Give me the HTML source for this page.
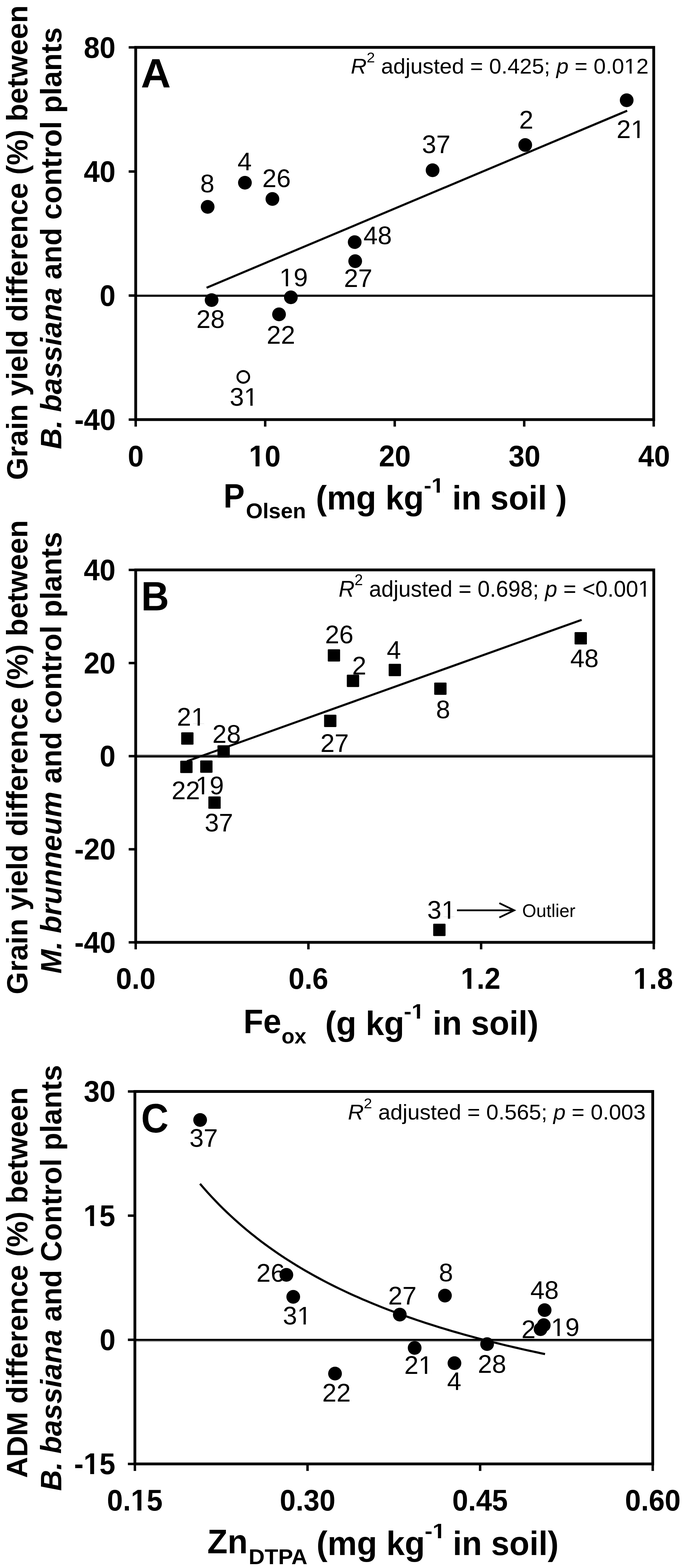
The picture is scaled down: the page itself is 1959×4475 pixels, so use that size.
<!DOCTYPE html>
<html><head><meta charset="utf-8"><title>Figure</title>
<style>html,body{margin:0;padding:0;background:#fff;overflow:hidden}svg{display:block}</style>
</head><body>
<svg width="1959" height="4475" viewBox="0 0 1959 4475" font-family='"Liberation Sans", Arial, sans-serif' fill="#000">
<rect width="1959" height="4475" fill="#fff"/>
<line x1="367.5" y1="135.2" x2="387.5" y2="135.2" stroke="#000" stroke-width="7"/>
<line x1="367.5" y1="489.5" x2="387.5" y2="489.5" stroke="#000" stroke-width="7"/>
<line x1="367.5" y1="843.5" x2="387.5" y2="843.5" stroke="#000" stroke-width="7"/>
<line x1="367.5" y1="1197.5" x2="387.5" y2="1197.5" stroke="#000" stroke-width="7"/>
<line x1="387.5" y1="1197.5" x2="387.5" y2="1217.5" stroke="#000" stroke-width="7"/>
<line x1="757.3" y1="1197.5" x2="757.3" y2="1217.5" stroke="#000" stroke-width="7"/>
<line x1="1127.2" y1="1197.5" x2="1127.2" y2="1217.5" stroke="#000" stroke-width="7"/>
<line x1="1497" y1="1197.5" x2="1497" y2="1217.5" stroke="#000" stroke-width="7"/>
<line x1="1866.8" y1="1197.5" x2="1866.8" y2="1217.5" stroke="#000" stroke-width="7"/>
<rect x="387.5" y="839.4" width="1479.3" height="2.5" fill="#a4a4a4"/>
<rect x="387.5" y="841.9" width="1479.3" height="5.0" fill="#000"/>
<line x1="590" y1="821.2" x2="1791" y2="316" stroke="#000" stroke-width="6"/>
<circle cx="593" cy="590.3" r="19.6"/>
<circle cx="699.4" cy="521.5" r="19.6"/>
<circle cx="777.9" cy="567.8" r="19.6"/>
<circle cx="1012.9" cy="691" r="19.6"/>
<circle cx="1014.3" cy="745.3" r="19.6"/>
<circle cx="604.3" cy="856.5" r="19.6"/>
<circle cx="830.6" cy="848.5" r="19.6"/>
<circle cx="796.8" cy="897.2" r="19.6"/>
<circle cx="1235.3" cy="485.8" r="19.6"/>
<circle cx="1499.9" cy="413.8" r="19.6"/>
<circle cx="1789.6" cy="286.1" r="19.6"/>
<circle cx="694.8" cy="1075.7" r="16.7" fill="#fff" stroke="#000" stroke-width="5.6"/>
<text x="571.8" y="549.4" font-size="73">8</text>
<text x="678.3" y="485.9" font-size="73">4</text>
<text x="749.1" y="534.2" font-size="73">26</text>
<text x="1038.0" y="697.3" font-size="73">48</text>
<text x="982.2" y="819.4" font-size="73">27</text>
<text x="797.8" y="817.1" font-size="73">19</text>
<text x="560.7" y="936.1" font-size="73">28</text>
<text x="761.6" y="980.9" font-size="73">22</text>
<text x="656.0" y="1157.7" font-size="73">31</text>
<text x="1205.1" y="437.3" font-size="73">37</text>
<text x="1482.4" y="366.7" font-size="73">2</text>
<text x="1760.8" y="393.7" font-size="73">21</text>
<rect x="387.5" y="135.2" width="1479.3" height="1062.3" fill="none" stroke="#000" stroke-width="8"/>
<line x1="367.5" y1="1626.5" x2="387.5" y2="1626.5" stroke="#000" stroke-width="7"/>
<line x1="367.5" y1="1892.3" x2="387.5" y2="1892.3" stroke="#000" stroke-width="7"/>
<line x1="367.5" y1="2158" x2="387.5" y2="2158" stroke="#000" stroke-width="7"/>
<line x1="367.5" y1="2423.8" x2="387.5" y2="2423.8" stroke="#000" stroke-width="7"/>
<line x1="367.5" y1="2689.4" x2="387.5" y2="2689.4" stroke="#000" stroke-width="7"/>
<line x1="387.5" y1="2689.4" x2="387.5" y2="2709.4" stroke="#000" stroke-width="7"/>
<line x1="880.7" y1="2689.4" x2="880.7" y2="2709.4" stroke="#000" stroke-width="7"/>
<line x1="1373.9" y1="2689.4" x2="1373.9" y2="2709.4" stroke="#000" stroke-width="7"/>
<line x1="1867" y1="2689.4" x2="1867" y2="2709.4" stroke="#000" stroke-width="7"/>
<rect x="387.5" y="2153.9" width="1479.5" height="3.0" fill="#484848"/>
<rect x="387.5" y="2156.9" width="1479.5" height="5.0" fill="#000"/>
<line x1="534" y1="2172.5" x2="1661" y2="1769" stroke="#000" stroke-width="6"/>
<rect x="936.0" y="1852.9" width="35.2" height="35.2" rx="2"/>
<rect x="990.4" y="1925.6" width="35.2" height="35.2" rx="2"/>
<rect x="925.5" y="2039.8" width="35.2" height="35.2" rx="2"/>
<rect x="517.4" y="2090.1" width="35.2" height="35.2" rx="2"/>
<rect x="621.0" y="2127.1" width="35.2" height="35.2" rx="2"/>
<rect x="514.7" y="2171.1" width="35.2" height="35.2" rx="2"/>
<rect x="571.7" y="2170.2" width="35.2" height="35.2" rx="2"/>
<rect x="595.0" y="2273.0" width="35.2" height="35.2" rx="2"/>
<rect x="1109.9" y="1894.6" width="35.2" height="35.2" rx="2"/>
<rect x="1240.0" y="1947.9" width="35.2" height="35.2" rx="2"/>
<rect x="1640.8" y="1804.1" width="35.2" height="35.2" rx="2"/>
<rect x="1237.1" y="2636.3" width="35.2" height="35.2" rx="2"/>
<text x="928.2" y="1836" font-size="73">26</text>
<text x="1005.5" y="1925.2" font-size="73">2</text>
<text x="505.3" y="2071.4" font-size="73">21</text>
<text x="606.6" y="2119.5" font-size="73">28</text>
<text x="915.0" y="2145.6" font-size="73">27</text>
<text x="490.0" y="2281" font-size="73">22</text>
<text x="558.2" y="2267.1" font-size="73">19</text>
<text x="584.4" y="2373" font-size="73">37</text>
<text x="1104.5" y="1879.6" font-size="73">4</text>
<text x="1245.0" y="2050.3" font-size="73">8</text>
<text x="1628.5" y="1903.9" font-size="73">48</text>
<text x="1220.1" y="2622.4" font-size="73">31</text>
<line x1="1305" y1="2598" x2="1468" y2="2598" stroke="#000" stroke-width="5"/>
<polyline points="1426,2577.5 1468.5,2598 1426,2618.5" fill="none" stroke="#000" stroke-width="5"/>
<rect x="387.5" y="1626.5" width="1479.5" height="1062.9" fill="none" stroke="#000" stroke-width="8"/>
<line x1="365.2" y1="3115" x2="385.2" y2="3115" stroke="#000" stroke-width="7"/>
<line x1="365.2" y1="3469.4" x2="385.2" y2="3469.4" stroke="#000" stroke-width="7"/>
<line x1="365.2" y1="3823.7" x2="385.2" y2="3823.7" stroke="#000" stroke-width="7"/>
<line x1="365.2" y1="4178" x2="385.2" y2="4178" stroke="#000" stroke-width="7"/>
<line x1="385.2" y1="4178" x2="385.2" y2="4198" stroke="#000" stroke-width="7"/>
<line x1="878.2" y1="4178" x2="878.2" y2="4198" stroke="#000" stroke-width="7"/>
<line x1="1371.1" y1="4178" x2="1371.1" y2="4198" stroke="#000" stroke-width="7"/>
<line x1="1864" y1="4178" x2="1864" y2="4198" stroke="#000" stroke-width="7"/>
<rect x="385.2" y="3821" width="1478.8" height="5.9" fill="#000"/>
<rect x="385.2" y="3826.9" width="1478.8" height="2.9" fill="#b4b4b4"/>
<polyline points="571.2,3378.5 582.3,3391.3 593.3,3403.7 604.4,3415.7 615.5,3427.4 626.5,3438.8 637.6,3449.8 648.7,3460.5 659.8,3470.9 670.8,3481.0 681.9,3490.8 693.0,3500.4 704.0,3509.8 715.1,3518.9 726.2,3527.7 737.2,3536.3 748.3,3544.8 759.4,3553.0 770.5,3561.0 781.5,3568.8 792.6,3576.5 803.7,3583.9 814.7,3591.2 825.8,3598.3 836.9,3605.3 847.9,3612.1 859.0,3618.8 870.1,3625.3 881.2,3631.7 892.2,3637.9 903.3,3644.0 914.4,3650.0 925.4,3655.8 936.5,3661.6 947.6,3667.2 958.6,3672.7 969.7,3678.1 980.8,3683.4 991.8,3688.6 1002.9,3693.7 1014.0,3698.7 1025.1,3703.6 1036.1,3708.4 1047.2,3713.1 1058.3,3717.8 1069.3,3722.3 1080.4,3726.8 1091.5,3731.2 1102.5,3735.5 1113.6,3739.7 1124.7,3743.9 1135.8,3748.0 1146.8,3752.0 1157.9,3756.0 1169.0,3759.9 1180.0,3763.7 1191.1,3767.5 1202.2,3771.2 1213.2,3774.8 1224.3,3778.4 1235.4,3781.9 1246.4,3785.4 1257.5,3788.8 1268.6,3792.2 1279.7,3795.5 1290.7,3798.8 1301.8,3802.0 1312.9,3805.1 1323.9,3808.3 1335.0,3811.3 1346.1,3814.4 1357.1,3817.4 1368.2,3820.3 1379.3,3823.2 1390.4,3826.1 1401.4,3828.9 1412.5,3831.7 1423.6,3834.4 1434.6,3837.1 1445.7,3839.8 1456.8,3842.4 1467.8,3845.0 1478.9,3847.5 1490.0,3850.1 1501.1,3852.6 1512.1,3855.0 1523.2,3857.4 1534.3,3859.8 1545.3,3862.2 1556.4,3864.5" fill="none" stroke="#000" stroke-width="6" stroke-linejoin="round"/>
<circle cx="571.5" cy="3196.3" r="19.6"/>
<circle cx="817.8" cy="3638.3" r="19.6"/>
<circle cx="837.4" cy="3701.1" r="19.6"/>
<circle cx="1141.7" cy="3751.9" r="19.6"/>
<circle cx="1270.6" cy="3697.6" r="19.6"/>
<circle cx="1184.1" cy="3846.8" r="19.6"/>
<circle cx="1297.8" cy="3890.4" r="19.6"/>
<circle cx="956.7" cy="3920.2" r="19.6"/>
<circle cx="1391" cy="3836" r="19.6"/>
<circle cx="1555.3" cy="3739" r="19.6"/>
<circle cx="1552.8" cy="3781.9" r="19.6"/>
<circle cx="1543.7" cy="3793.3" r="19.6"/>
<text x="541.0" y="3273" font-size="73">37</text>
<text x="732.3" y="3657.5" font-size="73">26</text>
<text x="807.8" y="3780" font-size="73">31</text>
<text x="1108.4" y="3723.2" font-size="73">27</text>
<text x="1253.3" y="3657.2" font-size="73">8</text>
<text x="1154.4" y="3921" font-size="73">21</text>
<text x="1276.7" y="3966.5" font-size="73">4</text>
<text x="920.3" y="3999.7" font-size="73">22</text>
<text x="1364.4" y="3917.8" font-size="73">28</text>
<text x="1514.4" y="3706.5" font-size="73">48</text>
<text x="1489.0" y="3818.7" font-size="73">2</text>
<text x="1573.6" y="3813" font-size="73">19</text>
<rect x="385.2" y="3115" width="1478.8" height="1063.0" fill="none" stroke="#000" stroke-width="8"/>
<text x="239.2" y="164.5" font-weight="bold" font-size="85" textLength="90.8" lengthAdjust="spacingAndGlyphs">80</text>
<text x="239.2" y="518.8" font-weight="bold" font-size="85" textLength="90.8" lengthAdjust="spacingAndGlyphs">40</text>
<text x="284.4" y="872.8" font-weight="bold" font-size="85" textLength="45.4" lengthAdjust="spacingAndGlyphs">0</text>
<text x="212.4" y="1226.8" font-weight="bold" font-size="85" textLength="117.9" lengthAdjust="spacingAndGlyphs">-40</text>
<text x="364.9" y="1331.3" font-weight="bold" font-size="85" textLength="45.4" lengthAdjust="spacingAndGlyphs">0</text>
<text x="710.7" y="1331.3" font-weight="bold" font-size="85" textLength="90.8" lengthAdjust="spacingAndGlyphs">10</text>
<text x="1082.1" y="1331.3" font-weight="bold" font-size="85" textLength="90.8" lengthAdjust="spacingAndGlyphs">20</text>
<text x="1452.4" y="1331.3" font-weight="bold" font-size="85" textLength="90.8" lengthAdjust="spacingAndGlyphs">30</text>
<text x="1822.6" y="1331.3" font-weight="bold" font-size="85" textLength="90.8" lengthAdjust="spacingAndGlyphs">40</text>
<text x="402.3" y="250" font-weight="bold" font-size="116" textLength="85.6" lengthAdjust="spacingAndGlyphs">A</text>
<text x="1001.7" y="209.6" font-size="61" textLength="850.4" lengthAdjust="spacingAndGlyphs"><tspan font-style="italic">R</tspan><tspan font-size="41.5" dy="-31.5">2</tspan><tspan dy="31.5"> adjusted = 0.425; <tspan font-style="italic">p</tspan> = 0.012</tspan></text>
<text transform="translate(77.7,1367) rotate(-90)" x="-3.0" y="0" font-weight="bold" font-size="83" textLength="1355.0" lengthAdjust="spacingAndGlyphs">Grain yield difference (%) between</text>
<text transform="translate(174.6,1281) rotate(-90)" x="-1.0" y="0" font-weight="bold" font-size="83" textLength="1203.8" lengthAdjust="spacingAndGlyphs"><tspan font-style="italic">B. bassiana</tspan> and control plants</text>
<text x="638.2" y="1448.4" font-weight="bold" font-size="96" textLength="60.4" lengthAdjust="spacingAndGlyphs">P</text>
<text x="702.2" y="1479" font-weight="bold" font-size="62" textLength="171.6" lengthAdjust="spacingAndGlyphs">Olsen</text>
<text x="902.1" y="1454" font-weight="bold" font-size="96" textLength="308.4" lengthAdjust="spacingAndGlyphs">(mg kg</text>
<text x="1210.5" y="1406" font-weight="bold" font-size="60" textLength="57.4" lengthAdjust="spacingAndGlyphs">-1</text>
<text x="1291.5" y="1454" font-weight="bold" font-size="96" textLength="327.4" lengthAdjust="spacingAndGlyphs">in soil )</text>
<text x="239.2" y="1655.8" font-weight="bold" font-size="85" textLength="90.8" lengthAdjust="spacingAndGlyphs">40</text>
<text x="239.2" y="1921.6" font-weight="bold" font-size="85" textLength="90.8" lengthAdjust="spacingAndGlyphs">20</text>
<text x="284.4" y="2187.3" font-weight="bold" font-size="85" textLength="45.4" lengthAdjust="spacingAndGlyphs">0</text>
<text x="212.4" y="2453.1" font-weight="bold" font-size="85" textLength="117.9" lengthAdjust="spacingAndGlyphs">-20</text>
<text x="212.4" y="2718.7" font-weight="bold" font-size="85" textLength="117.9" lengthAdjust="spacingAndGlyphs">-40</text>
<text x="330.9" y="2822.3" font-weight="bold" font-size="85" textLength="113.4" lengthAdjust="spacingAndGlyphs">0.0</text>
<text x="824.1" y="2822.3" font-weight="bold" font-size="85" textLength="113.4" lengthAdjust="spacingAndGlyphs">0.6</text>
<text x="1315.8" y="2822.3" font-weight="bold" font-size="85" textLength="113.4" lengthAdjust="spacingAndGlyphs">1.2</text>
<text x="1808.4" y="2822.3" font-weight="bold" font-size="85" textLength="113.4" lengthAdjust="spacingAndGlyphs">1.8</text>
<text x="1491.3" y="2617.3" font-size="52" textLength="152.0" lengthAdjust="spacingAndGlyphs">Outlier</text>
<text x="403.1" y="1741.6" font-weight="bold" font-size="116" textLength="79.8" lengthAdjust="spacingAndGlyphs">B</text>
<text x="967.1" y="1703" font-size="64" textLength="890.4" lengthAdjust="spacingAndGlyphs"><tspan font-style="italic">R</tspan><tspan font-size="43.5" dy="-33.5">2</tspan><tspan dy="33.5"> adjusted = 0.698; <tspan font-style="italic">p</tspan> = &lt;0.001</tspan></text>
<text transform="translate(77.7,2835) rotate(-90)" x="-3.0" y="0" font-weight="bold" font-size="83" textLength="1353.6" lengthAdjust="spacingAndGlyphs">Grain yield difference (%) between</text>
<text transform="translate(174.9,2777.7) rotate(-90)" x="-1.0" y="0" font-weight="bold" font-size="83" textLength="1260.4" lengthAdjust="spacingAndGlyphs"><tspan font-style="italic">M. brunneum</tspan> and control plants</text>
<text x="695.3" y="2948" font-weight="bold" font-size="96" textLength="108.0" lengthAdjust="spacingAndGlyphs">Fe</text>
<text x="804.1" y="2977.8" font-weight="bold" font-size="61" textLength="70.7" lengthAdjust="spacingAndGlyphs">ox</text>
<text x="928.5" y="2953.5" font-weight="bold" font-size="96" textLength="226.2" lengthAdjust="spacingAndGlyphs">(g kg</text>
<text x="1153.3" y="2906.7" font-weight="bold" font-size="60" textLength="58.4" lengthAdjust="spacingAndGlyphs">-1</text>
<text x="1235.8" y="2952.8" font-weight="bold" font-size="96" textLength="302.0" lengthAdjust="spacingAndGlyphs">in soil)</text>
<text x="239.2" y="3144.3" font-weight="bold" font-size="85" textLength="90.8" lengthAdjust="spacingAndGlyphs">30</text>
<text x="238.3" y="3498.7" font-weight="bold" font-size="85" textLength="90.8" lengthAdjust="spacingAndGlyphs">15</text>
<text x="284.4" y="3853.0" font-weight="bold" font-size="85" textLength="45.4" lengthAdjust="spacingAndGlyphs">0</text>
<text x="211.4" y="4207.3" font-weight="bold" font-size="85" textLength="117.9" lengthAdjust="spacingAndGlyphs">-15</text>
<text x="305.5" y="4311.3" font-weight="bold" font-size="85" textLength="158.8" lengthAdjust="spacingAndGlyphs">0.15</text>
<text x="799.0" y="4311.3" font-weight="bold" font-size="85" textLength="158.8" lengthAdjust="spacingAndGlyphs">0.30</text>
<text x="1291.4" y="4311.3" font-weight="bold" font-size="85" textLength="158.8" lengthAdjust="spacingAndGlyphs">0.45</text>
<text x="1784.8" y="4311.3" font-weight="bold" font-size="85" textLength="158.8" lengthAdjust="spacingAndGlyphs">0.60</text>
<text x="402.9" y="3231.5" font-weight="bold" font-size="116" textLength="78.4" lengthAdjust="spacingAndGlyphs">C</text>
<text x="993.5" y="3195" font-size="61" textLength="850.1" lengthAdjust="spacingAndGlyphs"><tspan font-style="italic">R</tspan><tspan font-size="41.5" dy="-32">2</tspan><tspan dy="32"> adjusted = 0.565; <tspan font-style="italic">p</tspan> = 0.003</tspan></text>
<text transform="translate(77.7,4216) rotate(-90)" x="-2.0" y="0" font-weight="bold" font-size="83" textLength="1115.1" lengthAdjust="spacingAndGlyphs">ADM difference (%) between</text>
<text transform="translate(174.9,4254) rotate(-90)" x="-1.0" y="0" font-weight="bold" font-size="83" textLength="1215.5" lengthAdjust="spacingAndGlyphs"><tspan font-style="italic">B. bassiana</tspan> and Control plants</text>
<text x="592.1" y="4432.8" font-weight="bold" font-size="96" textLength="115.5" lengthAdjust="spacingAndGlyphs">Zn</text>
<text x="709.9" y="4464" font-weight="bold" font-size="62" textLength="168.0" lengthAdjust="spacingAndGlyphs">DTPA</text>
<text x="903.7" y="4438" font-weight="bold" font-size="96" textLength="309.9" lengthAdjust="spacingAndGlyphs">(mg kg</text>
<text x="1212.7" y="4390.3" font-weight="bold" font-size="60" textLength="59.5" lengthAdjust="spacingAndGlyphs">-1</text>
<text x="1293.0" y="4437.6" font-weight="bold" font-size="96" textLength="302.3" lengthAdjust="spacingAndGlyphs">in soil)</text>
<g fill="#fff"><rect x="802.8" y="811.0" width="13.4" height="7.3"/><rect x="822.6" y="811.0" width="12.8" height="7.3"/><rect x="701.6" y="1151.6" width="13.4" height="7.3"/><rect x="721.4" y="1151.6" width="12.8" height="7.3"/><rect x="1806.4" y="387.6" width="13.4" height="7.3"/><rect x="1826.2" y="387.6" width="12.8" height="7.3"/><rect x="550.9" y="2065.3" width="13.4" height="7.3"/><rect x="570.7" y="2065.3" width="12.8" height="7.3"/><rect x="563.2" y="2261.0" width="13.4" height="7.3"/><rect x="583.0" y="2261.0" width="12.8" height="7.3"/><rect x="1265.7" y="2616.3" width="13.4" height="7.3"/><rect x="1285.5" y="2616.3" width="12.8" height="7.3"/><rect x="853.4" y="3773.9" width="13.4" height="7.3"/><rect x="873.2" y="3773.9" width="12.8" height="7.3"/><rect x="1200.0" y="3914.9" width="13.4" height="7.3"/><rect x="1219.8" y="3914.9" width="12.8" height="7.3"/><rect x="1578.6" y="3806.9" width="13.4" height="7.3"/><rect x="1598.4" y="3806.9" width="12.8" height="7.3"/><rect x="715.2" y="1322.0" width="14.6" height="10.5"/><rect x="740.9" y="1322.0" width="13.5" height="10.5"/><rect x="1786.6" y="204.4" width="11.5" height="6.4"/><rect x="1803.6" y="204.4" width="11.0" height="6.4"/><rect x="1235.5" y="1399.3" width="11.5" height="7.9"/><rect x="1255.9" y="1399.3" width="10.7" height="7.9"/><rect x="1320.3" y="2813.0" width="14.6" height="10.5"/><rect x="1346.0" y="2813.0" width="13.5" height="10.5"/><rect x="1812.9" y="2813.0" width="14.6" height="10.5"/><rect x="1838.6" y="2813.0" width="13.5" height="10.5"/><rect x="1826.8" y="1697.6" width="11.6" height="6.6"/><rect x="1843.9" y="1697.6" width="11.1" height="6.6"/><rect x="1178.8" y="2900.0" width="11.7" height="7.9"/><rect x="1199.4" y="2900.0" width="10.9" height="7.9"/><rect x="242.8" y="3489.4" width="14.6" height="10.5"/><rect x="268.5" y="3489.4" width="13.5" height="10.5"/><rect x="243.0" y="4198.0" width="14.6" height="10.5"/><rect x="268.7" y="4198.0" width="13.5" height="10.5"/><rect x="378.0" y="4302.0" width="14.6" height="10.5"/><rect x="403.7" y="4302.0" width="13.5" height="10.5"/><rect x="1238.6" y="4383.6" width="12.0" height="7.9"/><rect x="1259.7" y="4383.6" width="11.1" height="7.9"/></g>
</svg>
</body></html>
